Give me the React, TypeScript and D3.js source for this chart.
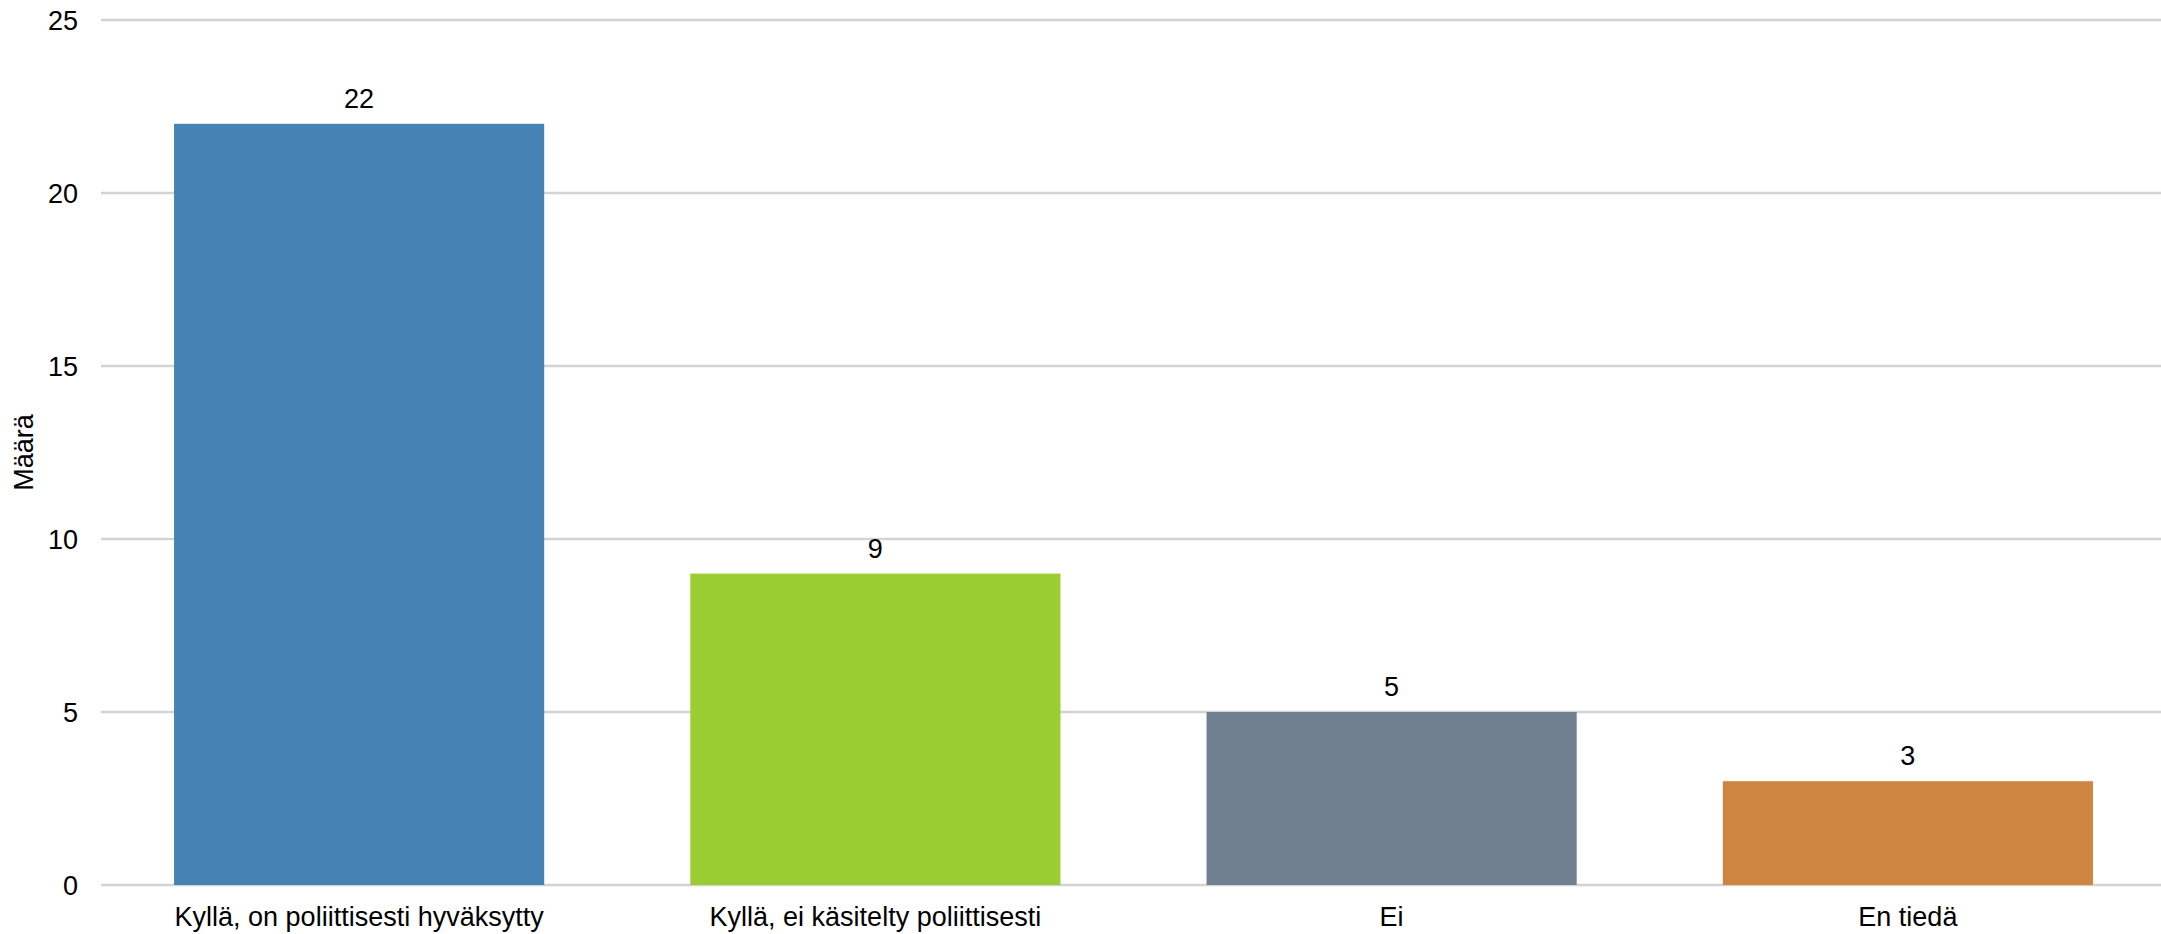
import React from "react";
import * as d3 from "d3";

const categories = [
  "Kyllä, on poliittisesti hyväksytty",
  "Kyllä, ei käsitelty poliittisesti",
  "Ei",
  "En tiedä",
];
const values = [22, 9, 5, 3];
const colors = ["#4682B4", "#9ACD32", "#708090", "#CD853F"];
const yTicks = [0, 5, 10, 15, 20, 25];
const yTitle = "Määrä";

const W = 2161;
const H = 934;
const FONT = "'Liberation Sans', Arial, Helvetica, sans-serif";
const FS = 27;

export default function App() {
  const x = d3
    .scaleBand<string>()
    .domain(categories)
    .range([101, 2166])
    .paddingInner(0.283)
    .paddingOuter(0.1415);
  const y = d3.scaleLinear().domain([0, 25]).range([885, 20]);

  return (
    <svg
      width={W}
      height={H}
      style={{ position: "absolute", left: 0, top: 0, display: "block", background: "#fff" }}
      fontFamily={FONT}
    >
      <rect x={0} y={0} width={W} height={H} fill="#fff" />
      {yTicks.map((t) => (
        <g key={t}>
          <line x1={101} x2={W} y1={y(t)} y2={y(t)} stroke="#d3d3d3" strokeWidth={2.5} />
          <text x={78} y={y(t) + 9.5} textAnchor="end" fontSize={FS} fill="#000">
            {t}
          </text>
        </g>
      ))}
      {categories.map((c, i) => (
        <g key={c}>
          <rect
            x={x(c)}
            y={y(values[i])}
            width={x.bandwidth()}
            height={y(0) - y(values[i])}
            fill={colors[i]}
          />
          <text
            x={(x(c) as number) + x.bandwidth() / 2}
            y={y(values[i]) - 16}
            textAnchor="middle"
            fontSize={FS}
            fill="#000"
          >
            {values[i]}
          </text>
          <text
            x={(x(c) as number) + x.bandwidth() / 2}
            y={926}
            textAnchor="middle"
            fontSize={FS}
            fill="#000"
          >
            {c}
          </text>
        </g>
      ))}
      <text
        transform={`translate(33, ${(y(0) + y(25)) / 2}) rotate(-90)`}
        textAnchor="middle"
        fontSize={FS}
        fill="#000"
      >
        {yTitle}
      </text>
    </svg>
  );
}
